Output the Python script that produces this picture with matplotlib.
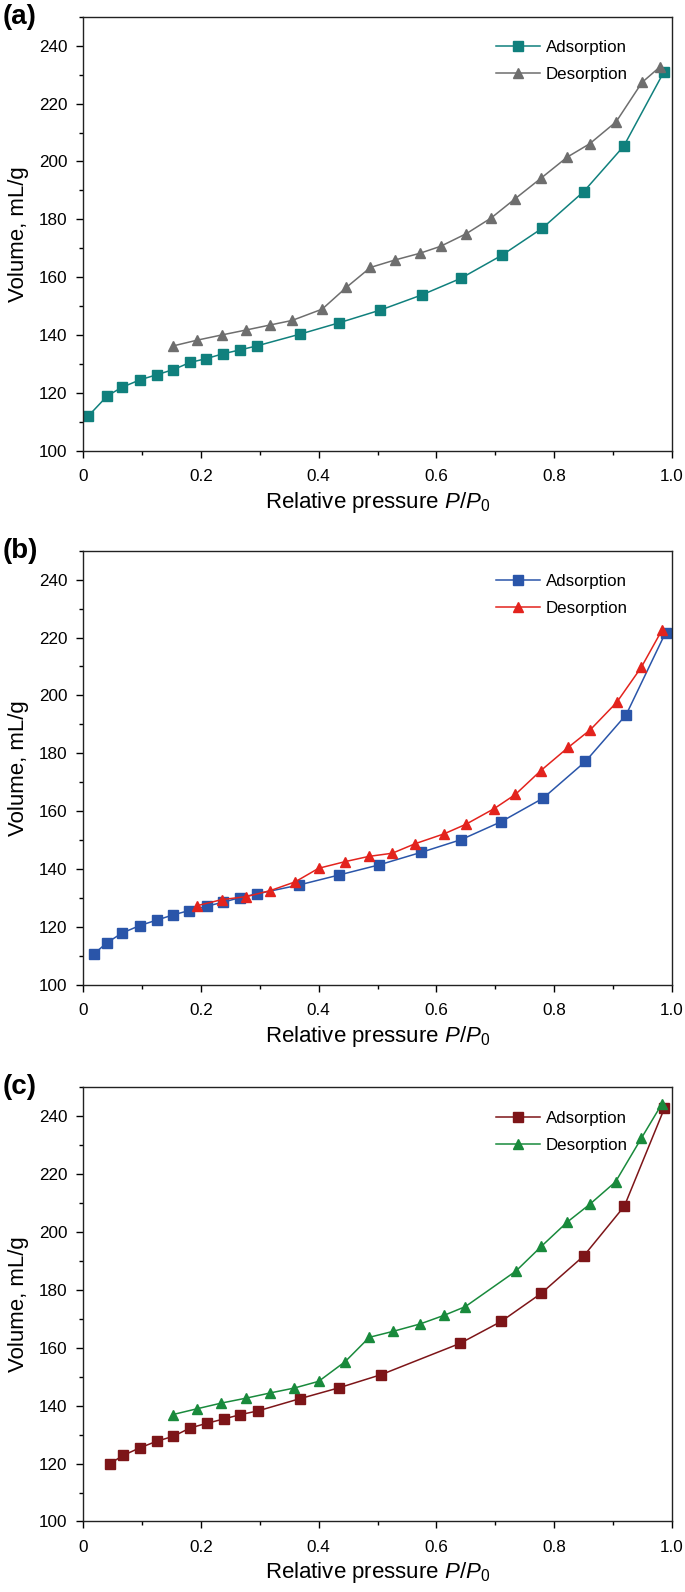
import matplotlib
matplotlib.use("Agg")
import matplotlib.pyplot as plt
from matplotlib.ticker import MultipleLocator

plt.rcParams['font.family'] = ['Liberation Sans', 'DejaVu Sans']
plt.rcParams['mathtext.fontset'] = 'custom'
plt.rcParams['mathtext.rm'] = 'Liberation Sans'
plt.rcParams['mathtext.it'] = 'Liberation Sans:italic'

# Panel (a)
a_ads_p = [0.009, 0.041, 0.066, 0.097, 0.126, 0.153, 0.182, 0.209, 0.238, 0.266, 0.295,
           0.369, 0.435, 0.505, 0.575, 0.641, 0.711, 0.780, 0.850, 0.918, 0.986]
a_ads_v = [112.1, 119.0, 122.0, 124.6, 126.4, 128.1, 130.6, 131.9, 133.6, 134.9, 136.3,
           140.4, 144.3, 148.7, 153.9, 159.6, 167.6, 177.0, 189.6, 205.3, 230.9]
a_des_p = [0.153, 0.194, 0.236, 0.277, 0.317, 0.355, 0.406, 0.447, 0.488, 0.530, 0.572,
           0.607, 0.651, 0.693, 0.734, 0.778, 0.822, 0.860, 0.905, 0.949, 0.979]
a_des_v = [136.3, 138.3, 140.1, 141.8, 143.5, 145.1, 149.0, 156.5, 163.4, 166.0, 168.3,
           170.7, 175.1, 180.5, 187.2, 194.3, 201.5, 206.1, 213.7, 227.3, 232.6]

# Panel (b)
b_ads_p = [0.018, 0.040, 0.066, 0.096, 0.125, 0.153, 0.180, 0.210, 0.238, 0.267, 0.296,
           0.366, 0.435, 0.503, 0.574, 0.642, 0.710, 0.781, 0.853, 0.922, 0.989]
b_ads_v = [110.6, 114.5, 117.9, 120.5, 122.4, 124.2, 125.7, 127.2, 128.6, 130.2, 131.5,
           134.5, 138.0, 141.5, 145.8, 150.2, 156.4, 164.5, 177.2, 193.3, 221.7]
b_des_p = [0.194, 0.236, 0.277, 0.318, 0.360, 0.400, 0.445, 0.485, 0.525, 0.564,
           0.613, 0.650, 0.698, 0.734, 0.777, 0.824, 0.861, 0.906, 0.948, 0.983]
b_des_v = [127.4, 129.5, 130.5, 132.6, 135.6, 140.3, 142.6, 144.4, 145.5, 148.8,
           152.2, 155.5, 160.9, 165.8, 174.0, 182.1, 188.1, 197.6, 209.8, 222.6]

# Panel (c)
c_ads_p = [0.045, 0.068, 0.096, 0.125, 0.153, 0.182, 0.210, 0.239, 0.267, 0.297,
           0.368, 0.435, 0.506, 0.640, 0.710, 0.778, 0.850, 0.919, 0.987]
c_ads_v = [119.9, 122.8, 125.4, 127.7, 129.4, 132.3, 133.9, 135.4, 136.9, 138.2,
           142.4, 146.2, 150.7, 161.5, 169.1, 178.8, 191.7, 208.9, 242.7]
c_des_p = [0.152, 0.193, 0.235, 0.277, 0.318, 0.359, 0.400, 0.445, 0.486, 0.527,
           0.572, 0.613, 0.649, 0.735, 0.778, 0.822, 0.860, 0.904, 0.948, 0.983]
c_des_v = [136.9, 138.9, 140.9, 142.6, 144.4, 146.1, 148.4, 155.2, 163.6, 165.7,
           168.2, 171.2, 174.2, 186.5, 195.0, 203.4, 209.5, 217.3, 232.4, 244.3]

panels = [
    ("(a)", a_ads_p, a_ads_v, a_des_p, a_des_v, "#10807d", "#6e6e6e", 0.7167),
    ("(b)", b_ads_p, b_ads_v, b_des_p, b_des_v, "#2a55a9", "#e3231d", 0.3813),
    ("(c)", c_ads_p, c_ads_v, c_des_p, c_des_v, "#7d1518", "#198a3c", 0.0443),
]

fig = plt.figure(figsize=(6.85, 15.92), dpi=100)

for label, ap, av, dp, dv, c_ads, c_des, bottom in panels:
    ax = fig.add_axes([0.1212, bottom, 0.8599, 0.2728])
    ax.plot(ap, av, color=c_ads, marker="s", markersize=6.5, linewidth=1.1,
            label="Adsorption")
    ax.plot(dp, dv, color=c_des, marker="^", markersize=7.5, linewidth=1.1,
            label="Desorption")
    ax.set_xlim(0, 1.0)
    ax.set_ylim(100, 250)
    ax.set_xticks([0, 0.2, 0.4, 0.6, 0.8, 1.0])
    ax.set_xticklabels(["0", "0.2", "0.4", "0.6", "0.8", "1.0"])
    ax.set_yticks(range(100, 241, 20))
    ax.xaxis.set_minor_locator(MultipleLocator(0.1))
    ax.yaxis.set_minor_locator(MultipleLocator(10))
    ax.tick_params(which="major", direction="out", length=5, width=1,
                   labelsize=12.3, top=False, right=False)
    ax.tick_params(axis="x", which="major", pad=8)
    ax.tick_params(axis="y", which="major", pad=6)
    ax.tick_params(which="minor", direction="out", length=3, width=1)
    for s in ax.spines.values():
        s.set_linewidth(1.0)
        s.set_color("#222222")
    ax.set_xlabel(r"Relative pressure $\mathit{P}$/$\mathit{P}_\mathrm{0}$",
                  fontsize=16, labelpad=4)
    ax.set_ylabel("Volume, mL/g", fontsize=16, labelpad=7)
    ax.legend(loc="upper left", bbox_to_anchor=(0.686, 0.965), frameon=False,
              fontsize=12.2, handlelength=2.6, handletextpad=0.35,
              borderpad=0, labelspacing=0.7)
    ax.text(-0.137, 1.0, label, transform=ax.transAxes, fontsize=20,
            fontweight="bold", ha="left", va="center")

fig.savefig("out.png", dpi=100)
